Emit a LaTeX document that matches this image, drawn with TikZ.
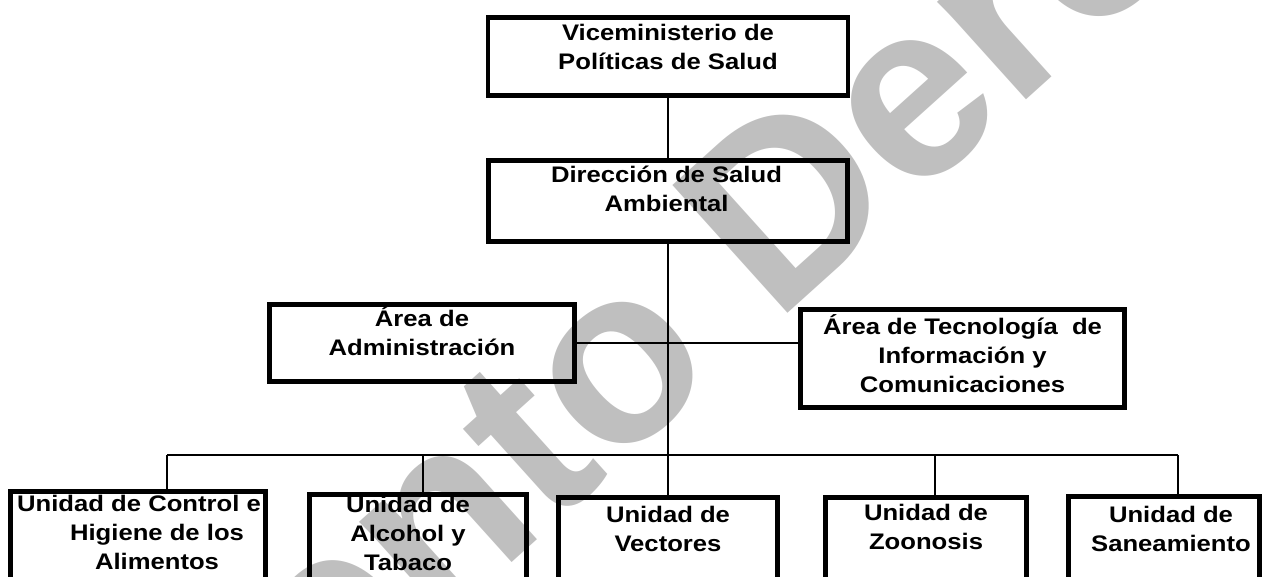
\documentclass[tikz,border=0pt]{standalone}
\usepackage{fontspec}
\setmainfont{Liberation Sans}
\newfontfamily\boxfont{Liberation Sans}[FakeStretch=1.14]
\usetikzlibrary{positioning}
\newcommand{\boxstrut}{\rule{0pt}{22pt}}
\begin{document}
\begin{tikzpicture}[x=1pt,y=-1pt,
  orgbox/.style={draw,line width=4.8pt,inner sep=0pt},
  boxtext/.style={align=center,inner sep=0pt,font=\boxfont\bfseries\fontsize{22.5}{29}\selectfont},
  link/.style={line width=1.4pt},
  watermark/.style={rotate=42,text=black!25,inner sep=0pt,font=\bfseries\fontsize{250}{250}\selectfont}]
\useasboundingbox (0,0) rectangle (1264,576);
\clip (0,0) rectangle (1264,576);
\node[watermark] (mark) at (630,370) {Documento Derogado};
% upper levels
\node[orgbox,minimum width=360pt,minimum height=78pt] (vice) at (668,56.5) {};
\node[orgbox,minimum width=359pt,minimum height=81pt] (dir) at (668,201) {};
\node[orgbox,minimum width=305pt,minimum height=77pt] (admin) at (422,343) {};
\node[orgbox,minimum width=324pt,minimum height=98pt] (tic) at (962.5,358.5) {};
% units, cut off by the lower edge
\node[orgbox,anchor=north,minimum width=255pt,minimum height=140pt] (control) at (138,489.4) {};
\node[orgbox,anchor=north,minimum width=217pt,minimum height=140pt] (alcohol) at (418,492.4) {};
\node[orgbox,anchor=north,minimum width=219pt,minimum height=140pt] (vectores) at (668,495.4) {};
\node[orgbox,anchor=north,minimum width=201pt,minimum height=140pt] (zoonosis) at (926,495.4) {};
\node[orgbox,anchor=north,minimum width=191pt,minimum height=140pt] (saneam) at (1164,494.4) {};
% texts
\node[boxtext,below=3.6pt of vice.north] (vicetext) {\boxstrut Viceministerio de\\Políticas de Salud};
\node[boxtext,below=2.6pt of dir.north,xshift=-1.5pt] (dirtext) {\boxstrut Dirección de Salud\\Ambiental};
\node[boxtext,below=2pt of admin.north] (admintext) {\boxstrut Área de\\Administración};
\node[boxtext,below=5.6pt of tic.north] (tictext) {\boxstrut Área de Tecnología\ \ de\\Información y\\Comunicaciones};
\node[boxtext,below=-0.4pt of control.north,xshift=19pt] (controltext) {\boxstrut Unidad de Control e\hspace*{36pt}\\Higiene de los\\Alimentos};
\node[boxtext,below=-2.4pt of alcohol.north,xshift=-10pt] (alcoholtext) {\boxstrut Unidad de\\Alcohol y\\Tabaco};
\node[boxtext,below=4.6pt of vectores.north] (vectorestext) {\boxstrut Unidad de\\Vectores};
\node[boxtext,below=2.6pt of zoonosis.north] (zoonosistext) {\boxstrut Unidad de\\Zoonosis};
\node[boxtext,below=5.6pt of saneam.north,xshift=7pt] (saneamtext) {\boxstrut Unidad de\\Saneamiento};
% connectors
\draw[link] (vice.south) -- (dir.north);
\draw[link] (dir.south) -- (vectores.north);
\draw[link] (admin.east) -- (admin.east -| tic.west);
\coordinate (busl) at (167,455);
\coordinate (busr) at (1178,455);
\draw[link] (busl) -- (busr);
\foreach \x/\unit in {167/control,423/alcohol,935/zoonosis,1178/saneam}
  \draw[link] (\x,455) -- (\unit.north -| \x,455);
\end{tikzpicture}
\end{document}
